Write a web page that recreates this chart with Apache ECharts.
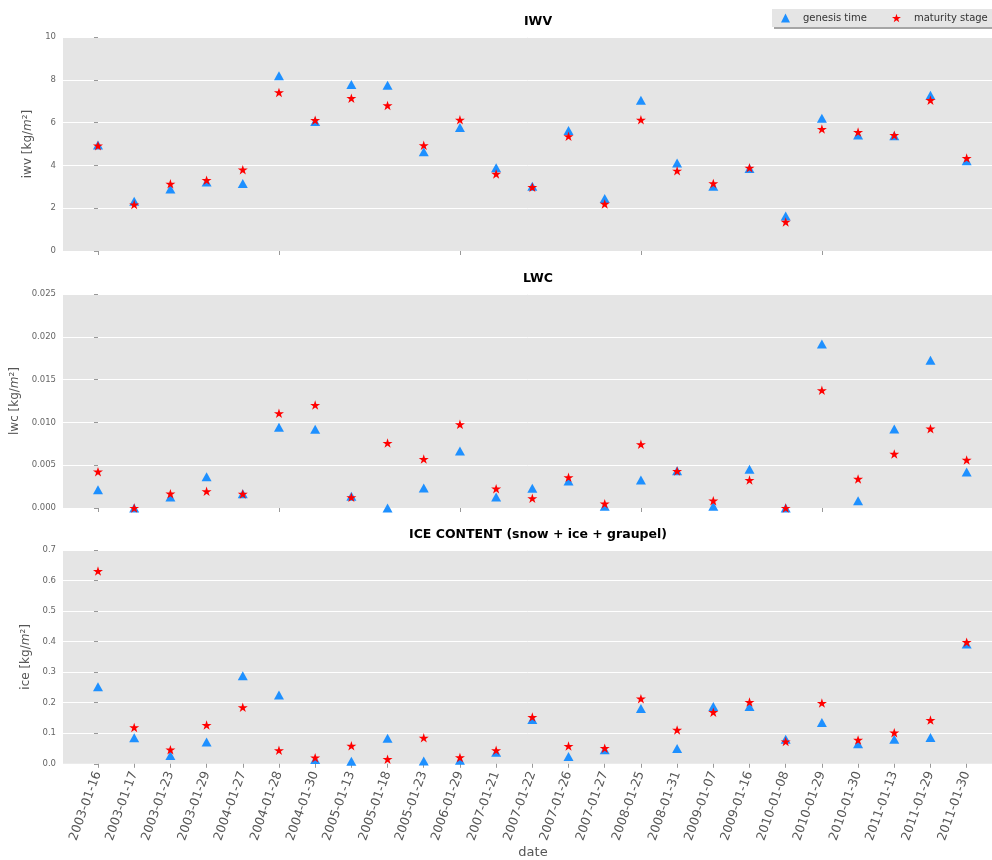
<!DOCTYPE html>
<html>
<head>
<meta charset="utf-8">
<script src="https://cdn.jsdelivr.net/npm/echarts@6/dist/echarts.min.js"></script>
<style>
  html, body { margin: 0; padding: 0; background: #fff; }
  #chart { width: 992px; height: 860px; }
</style>
</head>
<body>
<div id="chart"></div>
<script>
// Event dates (one column per cyclone)
const dates = [
  '2003-01-16', '2003-01-17', '2003-01-23', '2003-01-29', '2004-01-27',
  '2004-01-28', '2004-01-30', '2005-01-13', '2005-01-18', '2005-01-23',
  '2006-01-29', '2007-01-21', '2007-01-22', '2007-01-26', '2007-01-27',
  '2008-01-25', '2008-01-31', '2009-01-07', '2009-01-16', '2010-01-08',
  '2010-01-29', '2010-01-30', '2011-01-13', '2011-01-29', '2011-01-30'
];

// Integrated water vapour [kg/m2]
const iwvGenesis = [4.95, 2.33, 2.90, 3.22, 3.16, 8.19, 6.05, 7.78, 7.75, 4.64,
  5.77, 3.89, 3.03, 5.63, 2.45, 7.05, 4.11, 3.03, 3.86, 1.64, 6.20, 5.42, 5.39, 7.28, 4.22];
const iwvMaturity = [4.92, 2.17, 3.14, 3.31, 3.80, 7.41, 6.11, 7.14, 6.80, 4.94,
  6.13, 3.60, 2.98, 5.36, 2.20, 6.13, 3.75, 3.16, 3.89, 1.36, 5.70, 5.56, 5.41, 7.05, 4.34];

// Liquid water content [kg/m2]
const lwcGenesis = [0.00214, 0.0, 0.00128, 0.00366, 0.00167, 0.00942, 0.00919, 0.00136, 0.0, 0.00234,
  0.00666, 0.00128, 0.00230, 0.00315, 0.00020, 0.00327, 0.00436, 0.00020, 0.00452, 0.0,
  0.01916, 0.00086, 0.00923, 0.01725, 0.00421];
const lwcMaturity = [0.00424, 0.0, 0.00167, 0.00195, 0.00164, 0.01106, 0.01203, 0.00125, 0.00759, 0.00572,
  0.00977, 0.00226, 0.00113, 0.00358, 0.00050, 0.00744, 0.00432, 0.00086, 0.00327, 0.0,
  0.01375, 0.00339, 0.00631, 0.00927, 0.00561];

// Ice content: snow + ice + graupel [kg/m2]
const iceGenesis = [0.252, 0.085, 0.027, 0.071, 0.288, 0.225, 0.014, 0.008, 0.084, 0.009,
  0.012, 0.038, 0.145, 0.024, 0.046, 0.181, 0.050, 0.188, 0.188, 0.080,
  0.135, 0.066, 0.080, 0.086, 0.392];
const iceMaturity = [0.631, 0.119, 0.046, 0.127, 0.185, 0.044, 0.020, 0.059, 0.015, 0.085,
  0.021, 0.044, 0.153, 0.058, 0.051, 0.213, 0.111, 0.169, 0.202, 0.073,
  0.199, 0.078, 0.102, 0.143, 0.398];

const panelTitles = ['IWV', 'LWC', 'ICE CONTENT (snow + ice + graupel)'];
const seriesNames = ['genesis time', 'maturity stage'];

const FONT = 'DejaVu Sans';
const BLUE = '#1e90ff';
const RED = '#ff0000';

// five-pointed star marker
function starPath() {
  const pts = [];
  for (let k = 0; k < 10; k++) {
    const a = (-90 + k * 36) * Math.PI / 180;
    const r = k % 2 === 0 ? 100 : 38.2;
    pts.push((r * Math.cos(a)).toFixed(2) + ' ' + (r * Math.sin(a)).toFixed(2));
  }
  return 'path://M' + pts.join(' L') + ' Z';
}
const STAR = starPath();

const chart = echarts.init(document.getElementById('chart'), null, { renderer: 'canvas' });

const grids = [
  { left: 63, right: 0, top: 37, height: 214 },
  { left: 63, right: 0, top: 294, height: 214 },
  { left: 63, right: 0, top: 550, height: 215 }
].map(g => Object.assign(g, { show: true, backgroundColor: '#e5e5e5', borderWidth: 0, containLabel: false }));

const majorTicks = [0, 5, 10, 15, 20];
const allTicks = dates.map((d, i) => i);

// the panels are cut at the right edge of the canvas, before the last band closes
function xAxis(idx, labelled) {
  return {
    type: 'value', gridIndex: idx, min: -0.967, max: 24.70,
    axisLine: { show: false },
    splitLine: { show: false },
    axisTick: { show: true, length: 4, lineStyle: { color: '#999', width: 1 },
      customValues: labelled ? allTicks : majorTicks },
    axisLabel: labelled ? {
      show: true, customValues: allTicks, rotate: 70, margin: 8,
      color: '#555', fontFamily: FONT, fontSize: 12.5,
      formatter: v => dates[Math.round(v)]
    } : { show: false },
    name: labelled ? 'date' : '',
    nameLocation: 'middle', nameGap: 80,
    nameTextStyle: { color: '#555', fontFamily: FONT, fontSize: 13, padding: [0, 0, 0, 11] }
  };
}

function yAxis(idx, max, interval, digits, label, gap) {
  return {
    type: 'value', gridIndex: idx, min: 0, max: max, interval: interval,
    axisLine: { show: false },
    axisTick: { show: true, length: 4, lineStyle: { color: '#999', width: 1 } },
    splitLine: { show: true, lineStyle: { color: '#ffffff', width: 1 } },
    axisLabel: { color: '#666', fontFamily: FONT, fontSize: 8.5, margin: 7,
      formatter: v => v.toFixed(digits) },
    name: '{a|' + label + ' [kg/}{i|m}{a|²]}',
    nameLocation: 'middle', nameGap: gap,
    nameTextStyle: {
      color: '#555', fontFamily: FONT, fontSize: 12,
      rich: {
        a: { color: '#555', fontFamily: FONT, fontSize: 12 },
        i: { color: '#555', fontFamily: FONT, fontSize: 12, fontStyle: 'italic' }
      }
    }
  };
}

function scatter(idx, name, values) {
  const genesis = name === seriesNames[0];
  return {
    type: 'scatter', name: name, xAxisIndex: idx, yAxisIndex: idx,
    data: values.map((v, i) => [i, v]),
    symbol: genesis ? 'triangle' : STAR,
    symbolSize: genesis ? [10, 9] : [10, 9.5],
    itemStyle: { color: genesis ? BLUE : RED, opacity: 1 },
    z: genesis ? 2 : 3,
    clip: true,
    silent: true
  };
}

const option = {
  animation: false,
  backgroundColor: '#ffffff',
  textStyle: { fontFamily: FONT },
  title: panelTitles.map((t, i) => ({
    text: t, left: 533, textAlign: 'center',
    top: [10, 267, 523][i],
    textStyle: { fontFamily: FONT, fontSize: 12.5, fontWeight: 'bold', color: '#000' }
  })),
  legend: {
    orient: 'horizontal',
    left: 772, top: 9, width: 320,
    padding: [4, 8, 4, 9],
    backgroundColor: '#e5e5e5',
    borderWidth: 0,
    shadowColor: 'rgba(0,0,0,0.35)', shadowOffsetX: 2, shadowOffsetY: 2, shadowBlur: 0,
    itemWidth: 9, itemHeight: 9, itemGap: 25,
    textStyle: { fontFamily: FONT, fontSize: 10, color: '#333', padding: [0, 0, 0, 8] },
    data: [
      { name: seriesNames[0], icon: 'triangle', itemStyle: { color: BLUE } },
      { name: seriesNames[1], icon: STAR, itemStyle: { color: RED } }
    ],
    selectedMode: false
  },
  grid: grids,
  xAxis: [xAxis(0, false), xAxis(1, false), xAxis(2, true)],
  yAxis: [
    yAxis(0, 10, 2, 0, 'iwv', 25),
    yAxis(1, 0.025, 0.005, 3, 'lwc', 39),
    yAxis(2, 0.7, 0.1, 1, 'ice', 28)
  ],
  series: [
    scatter(0, seriesNames[0], iwvGenesis),
    scatter(0, seriesNames[1], iwvMaturity),
    scatter(1, seriesNames[0], lwcGenesis),
    scatter(1, seriesNames[1], lwcMaturity),
    scatter(2, seriesNames[0], iceGenesis),
    scatter(2, seriesNames[1], iceMaturity)
  ]
};

chart.setOption(option);
</script>
</body>
</html>
